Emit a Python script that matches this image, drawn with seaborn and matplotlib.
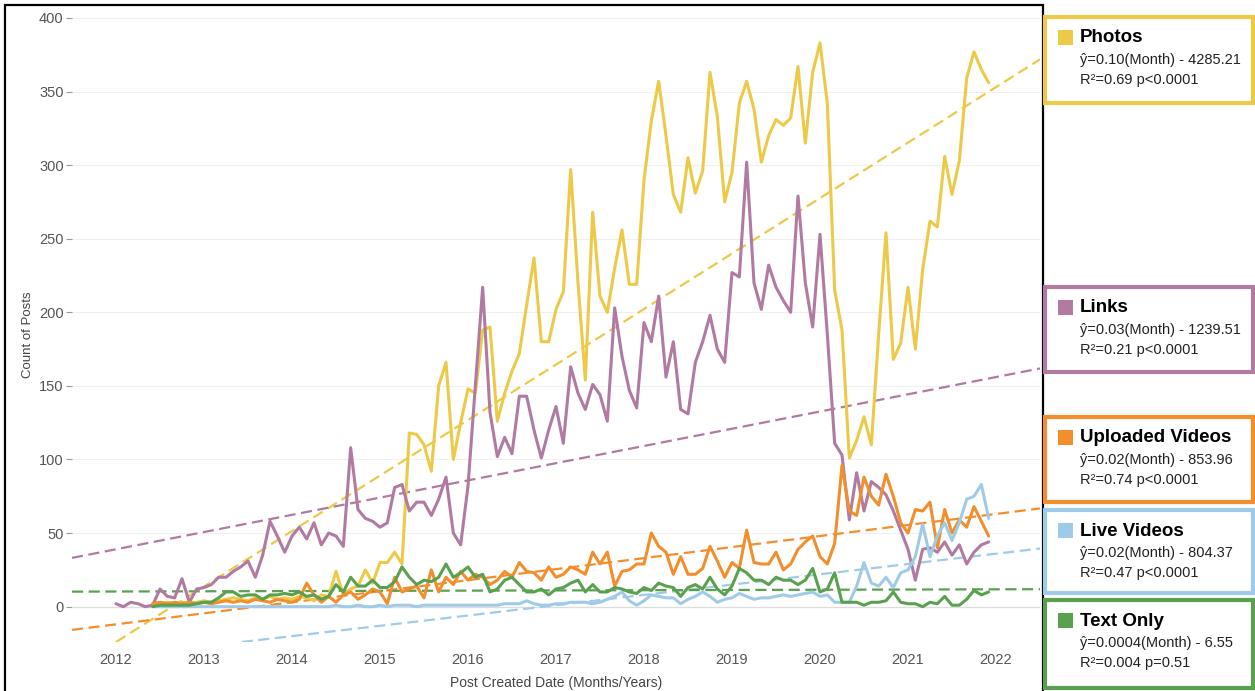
import numpy as np
import pandas as pd
import seaborn as sns
import matplotlib.pyplot as plt
from matplotlib.patches import Rectangle

NA = np.nan

# monthly counts, Jan 2012 .. Dec 2021
months = pd.date_range("2012-01-01", periods=120, freq="MS")

photos = [NA] * 5 + [
    1, 2, 3, 2, 3, 2, 3,
    4, 3, 4, 5, 6, 5, 4, 6, 5, 7, 5, 6,
    5, 7, 6, 4, 8, 7, 24, 8, 12, 14, 25, 16,
    30, 30, 37, 29, 118, 117, 110, 92, 150, 166, 100, 125,
    148, 145, 188, 190, 126, 145, 160, 172, 205, 237, 180, 180,
    202, 214, 297, 220, 154, 268, 211, 200, 230, 256, 219, 219,
    290, 330, 357, 320, 280, 268, 305, 281, 296, 363, 333, 275,
    295, 342, 357, 338, 302, 320, 331, 327, 332, 367, 315, 363,
    383, 342, 215, 188, 101, 113, 129, 110, 185, 254, 168, 179,
    217, 175, 229, 262, 258, 306, 280, 303, 359, 377, 365, 356]

links = [
    2, 0, 3, 2, 0, 1, 12, 7, 6, 19, 3, 12,
    13, 15, 20, 20, 24, 27, 31, 20, 35, 58, 48, 37,
    48, 54, 46, 57, 42, 50, 48, 41, 108, 66, 60, 58,
    54, 57, 81, 83, 65, 71, 71, 62, 73, 88, 50, 42,
    82, 150, 217, 132, 102, 115, 104, 143, 143, 120, 101, 120,
    136, 111, 163, 145, 134, 151, 144, 126, 203, 170, 147, 135,
    193, 180, 211, 156, 180, 134, 131, 166, 180, 198, 175, 166,
    227, 224, 302, 220, 202, 232, 217, 208, 200, 279, 220, 190,
    253, 185, 111, 103, 59, 91, 65, 85, 81, 76, 65, 52,
    39, 18, 39, 40, 37, 44, 35, 42, 29, 37, 42, 44]

uploaded = [NA] * 5 + [
    2, 3, 2, 3, 2, 3, 2,
    3, 2, 3, 4, 3, 4, 3, 5, 4, 3, 5, 4,
    3, 5, 16, 8, 3, 7, 3, 8, 10, 5, 8, 12,
    10, 2, 20, 10, 12, 14, 6, 25, 10, 20, 15, 24,
    18, 22, 20, 15, 18, 24, 20, 30, 24, 23, 18, 27,
    20, 22, 27, 25, 22, 37, 29, 37, 14, 24, 25, 29,
    29, 50, 41, 37, 22, 34, 22, 22, 26, 41, 31, 20,
    30, 26, 52, 30, 29, 29, 37, 25, 29, 39, 44, 48,
    34, 29, 43, 96, 65, 62, 88, 75, 69, 90, 75, 57,
    50, 66, 65, 71, 40, 66, 50, 59, 54, 68, 58, 48]

live = [NA] * 5 + [
    0, 0, 0, 0, 0, 0, 0,
    0, 0, 0, 0, 0, 0, 0, 0, 0, 0, 0, 0,
    0, 0, 0, 0, 0, 0, 1, 0, 0, 1, 0, 0,
    1, 0, 1, 1, 1, 0, 1, 1, 1, 1, 1, 1,
    1, 1, 1, 1, 1, 2, 2, 2, 4, 2, 1, 1,
    2, 2, 3, 3, 3, 2, 3, 5, 7, 10, 4, 1,
    4, 8, 7, 6, 6, 2, 5, 7, 10, 7, 3, 5,
    6, 9, 7, 5, 6, 6, 7, 8, 7, 8, 9, 10,
    7, 8, 3, 3, 3, 14, 30, 16, 14, 20, 13, 23,
    25, 34, 56, 34, 48, 57, 45, 57, 73, 75, 83, 60]

text_only = [NA] * 5 + [
    0, 1, 1, 1, 1, 1, 2,
    3, 3, 6, 10, 10, 7, 8, 8, 5, 8, 8, 9,
    8, 10, 7, 8, 5, 7, 15, 10, 20, 14, 14, 18,
    13, 13, 17, 27, 20, 15, 18, 17, 20, 29, 20, 23,
    27, 20, 22, 10, 12, 18, 20, 15, 10, 10, 12, 8,
    12, 13, 16, 18, 10, 15, 10, 10, 13, 12, 10, 9,
    13, 11, 16, 14, 13, 7, 13, 15, 12, 20, 12, 8,
    14, 26, 23, 18, 18, 15, 20, 18, 18, 15, 18, 26,
    10, 12, 23, 3, 3, 3, 1, 3, 3, 4, 10, 3,
    2, 2, 0, 3, 2, 7, 1, 1, 5, 11, 8, 10]

series = ["Photos", "Links", "Uploaded Videos", "Live Videos", "Text Only"]
colors = ["#EDC948", "#B07AA1", "#F28E2B", "#A0CBE8", "#59A14F"]
equations = ["ŷ=0.10(Month) - 4285.21", "ŷ=0.03(Month) - 1239.51",
             "ŷ=0.02(Month) - 853.96", "ŷ=0.02(Month) - 804.37",
             "ŷ=0.0004(Month) - 6.55"]
fit_stats = ["R²=0.69 p<0.0001", "R²=0.21 p<0.0001", "R²=0.74 p<0.0001",
             "R²=0.47 p<0.0001", "R²=0.004 p=0.51"]
# fitted trend value at start of 2012 and of 2022
trend_2012 = [-24, 39, -12, -34, 10.3]
trend_2022 = [353, 156, 63, 36, 11.8]
year_ticks = list(range(2012, 2023))

df = pd.DataFrame({"year": months.year + (months.month - 1) / 12,
                   "Photos": photos, "Links": links,
                   "Uploaded Videos": uploaded, "Live Videos": live,
                   "Text Only": text_only})
long = df.melt(id_vars="year", var_name="type", value_name="count").dropna()

sns.set_theme(style="white")
plt.rcParams["font.family"] = ["Liberation Sans", "DejaVu Sans"]

W, H = 1255, 691
fig = plt.figure(figsize=(W / 100, H / 100), dpi=100)
ax = fig.add_axes([72 / W, 1 - 642 / H, 968 / W, 627 / H])
ax.set_xlim(2011.5, 2022.5)
ax.set_ylim(-24, 402)

for name, c, a, b in zip(series, colors, trend_2012, trend_2022):
    ax.axline((2012, a), (2022, b), color=c, lw=1.6, ls=(0, (5, 2.5)), zorder=1.5)

sns.lineplot(data=long, x="year", y="count", hue="type", hue_order=series,
             palette=colors, estimator=None, lw=2.2, legend=False, ax=ax, zorder=2)

ax.axhline(0, color="#dddddd", lw=0.9, zorder=1)
ax.set_xlim(2011.5, 2022.5)
ax.set_ylim(-24, 402)
ax.set_xticks(year_ticks)
ax.set_yticks(range(0, 401, 50))
ax.grid(axis="y", color="#f0f0f0", lw=0.8)
ax.set_axisbelow(True)
for s in ax.spines.values():
    s.set_visible(False)
ax.tick_params(axis="y", length=4, width=0.8, color="#999999", pad=2,
               labelsize=10.5, labelcolor="#555555", left=True)
ax.tick_params(axis="x", length=0, pad=8, labelsize=10.5, labelcolor="#555555")
ax.set_xlabel("Post Created Date (Months/Years)", fontsize=10, color="#444444")
ax.set_ylabel("Count of Posts", fontsize=9.5, color="#444444")
ax.xaxis.set_label_coords(0.5, -0.054)
ax.yaxis.set_label_coords(-0.039, 0.49)

# outer frame around the chart
fig.patches.append(Rectangle((5 / W, -0.01), (1043 - 5) / W, 1 - 5 / H + 0.01,
                             transform=fig.transFigure, fill=False,
                             edgecolor="black", lw=1.6))

# legend boxes with fit statistics
box_top = [17, 287, 417, 510, 600]
box_h = [86, 85, 85, 83, 88]
for name, c, eq, st, top, h in zip(series, colors, equations, fit_stats, box_top, box_h):
    fig.patches.append(Rectangle((1045 / W, 1 - (top + h) / H), 208 / W, h / H,
                                 transform=fig.transFigure, facecolor="white",
                                 edgecolor=c, lw=3))
    fig.patches.append(Rectangle((1058 / W, 1 - (top + 28) / H), 15 / W, 15 / H,
                                 transform=fig.transFigure, facecolor=c, lw=0))
    fig.text(1080 / W, 1 - (top + 21) / H, name, fontsize=13.5, weight="bold",
             va="center", color="black")
    fig.text(1080 / W, 1 - (top + 43) / H, eq, fontsize=10.5, va="center", color="#222222")
    fig.text(1080 / W, 1 - (top + 63) / H, st, fontsize=10.5, va="center", color="#222222")

fig.savefig("out.png", dpi=100)
